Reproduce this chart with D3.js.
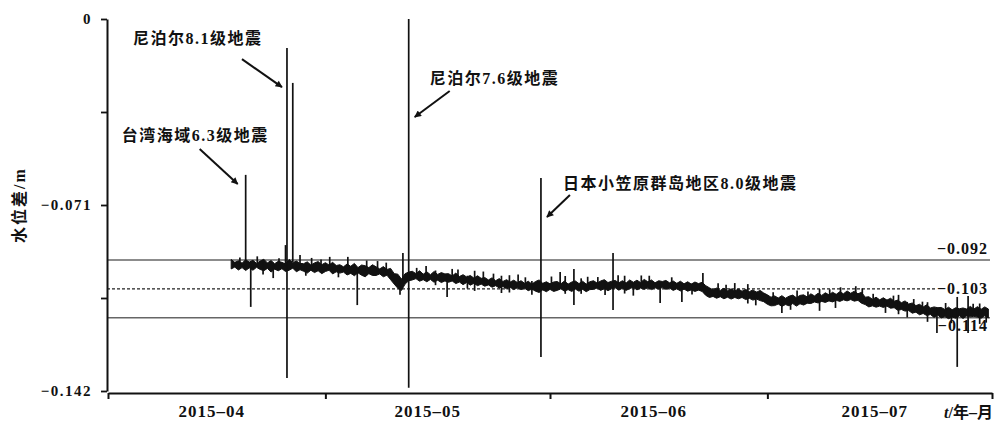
<!DOCTYPE html>
<html>
<head>
<meta charset="utf-8">
<script src="https://cdn.jsdelivr.net/npm/d3@7"></script>
<style>
  body { margin: 0; background: #fff; }
  text { font-family: "Liberation Serif", "Noto Sans CJK SC", serif; font-weight: bold; fill: #111; }
</style>
</head>
<body>
<svg id="chart" width="1007" height="427"></svg>
<script>
// Time axis: month boundaries and month labels
const monthStarts = ["2015-04-01", "2015-05-01", "2015-06-01", "2015-07-01", "2015-08-01"];
const monthLabels = ["2015–04", "2015–05", "2015–06", "2015–07"];

// Water-level difference axis (m)
const yTicks = [0, -0.0355, -0.071, -0.1065, -0.142];
const yTickLabels = ["0", "", "−0.071", "", "−0.142"];

// Reference levels (m)
const refLevels = [-0.092, -0.103, -0.114];
const refLabels = ["−0.092", "−0.103", "−0.114"];

// Recorded series: days after 2015-04-01, half-day sampling,
// upper and lower envelope of the record in mm
const seriesStartDay = 17;
const seriesStep = 0.5;
const levelUpperMM = [
  -91.8, -92.9, -92.3, -93.2, -91.9, -92.8, -92.1, -93.3, -92.4, -91.7,
  -93.1, -92.2, -93.4, -92.5, -92.9, -93.5, -91.8, -93.0, -92.4, -93.3,
  -93.4, -92.7, -93.9, -93.1, -92.6, -93.8, -93.0, -93.9, -92.9, -94.1,
  -93.8, -94.6, -93.5, -94.4, -93.3, -94.9, -93.9, -94.2, -94.9, -93.8,
  -94.6, -95.4, -94.5, -95.6, -95.2, -97.2, -97.4, -99.3, -97.2, -96.6,
  -96.3, -97.2, -96.1, -97.4, -96.5, -97.6, -96.4, -97.5, -96.8, -97.3,
  -97.2, -98.1, -97.0, -98.3, -97.6, -98.5, -97.9, -98.9, -98.0, -99.0,
  -98.7, -99.6, -98.8, -99.9, -99.1, -100.2, -99.5, -100.4, -99.7, -100.6,
  -99.9, -100.9, -100.1, -101.2, -100.2, -99.6, -100.9, -100.3, -101.1, -100.4,
  -100.2, -101.1, -100.0, -101.2, -100.4, -100.0, -101.0, -100.1, -101.2, -100.3,
  -99.9, -100.8, -100.0, -99.5, -100.6, -100.1, -99.8, -100.7, -99.9, -100.8,
  -99.6, -100.5, -99.7, -100.6, -99.4, -100.3, -99.6, -100.7, -99.9, -100.2,
  -99.8, -100.7, -100.0, -100.9, -100.1, -101.1, -100.3, -101.2, -100.4, -101.0,
  -100.5, -101.8, -102.6, -103.4, -102.7, -103.6, -102.8, -103.7, -103.0, -103.8,
  -103.1, -103.9, -103.2, -104.1, -103.4, -104.3, -103.6, -104.6, -105.3, -106.2,
  -105.7, -106.5, -105.6, -106.6, -105.8, -105.4, -106.4, -105.5, -105.3, -106.1,
  -104.9, -105.7, -104.7, -105.5, -104.5, -105.3, -104.3, -105.1, -104.1, -104.9,
  -103.8, -104.7, -103.9, -104.9, -104.3, -106.2, -106.0, -107.0, -106.2, -107.2,
  -106.4, -107.3, -106.6, -107.7, -107.3, -108.3, -107.6, -108.8, -108.4, -109.4,
  -108.9, -109.9, -109.1, -110.3, -109.9, -110.2, -110.1, -110.9, -110.0, -111.0,
  -110.2, -110.6, -110.3, -110.7, -109.7, -110.7, -109.8, -110.8, -109.9, -110.7
];
const levelLowerMM = [
  -95.4, -94.7, -95.8, -94.9, -96.0, -95.0, -95.9, -94.8, -95.6, -96.1,
  -95.2, -96.6, -95.5, -96.1, -95.3, -96.4, -95.9, -95.1, -96.5, -95.7,
  -96.3, -97.0, -95.9, -96.8, -96.1, -97.2, -96.4, -95.9, -97.3, -96.5,
  -97.0, -96.6, -97.7, -97.1, -98.0, -96.9, -97.8, -98.4, -97.2, -97.9,
  -97.9, -97.3, -98.4, -97.8, -99.5, -101.2, -102.8, -103.6, -101.2, -99.9,
  -99.6, -99.1, -100.1, -99.5, -100.3, -99.4, -100.5, -99.7, -100.6, -100.0,
  -100.5, -100.0, -101.0, -100.4, -101.4, -100.6, -101.6, -100.9, -101.8, -101.2,
  -102.0, -101.5, -102.4, -101.8, -102.7, -102.1, -103.0, -102.4, -103.3, -102.6,
  -103.3, -102.8, -103.7, -103.1, -103.9, -104.4, -103.4, -104.1, -103.2, -104.0,
  -103.6, -103.0, -103.9, -103.3, -104.0, -103.1, -103.9, -103.2, -104.1, -103.3,
  -103.2, -102.7, -103.6, -102.9, -103.7, -103.0, -102.6, -103.5, -102.8, -103.6,
  -102.9, -102.4, -103.4, -102.7, -103.2, -102.6, -103.3, -102.6, -103.1, -102.5,
  -103.2, -102.7, -103.6, -103.0, -103.8, -103.1, -103.9, -103.4, -104.0, -103.5,
  -104.0, -105.5, -106.3, -105.9, -106.6, -106.0, -106.8, -106.2, -106.9, -106.3,
  -106.8, -106.3, -107.1, -106.6, -107.3, -106.9, -107.5, -107.9, -108.9, -109.5,
  -109.4, -108.8, -109.7, -109.0, -109.5, -108.6, -109.6, -108.7, -109.2, -108.5,
  -108.6, -108.0, -108.4, -107.8, -108.2, -107.6, -108.0, -107.4, -107.8, -107.2,
  -107.6, -107.1, -107.7, -107.4, -108.5, -109.0, -109.9, -109.5, -110.0, -109.6,
  -110.1, -109.6, -110.4, -110.2, -111.2, -110.9, -111.5, -111.3, -112.3, -111.9,
  -112.9, -112.4, -113.2, -112.8, -113.9, -113.0, -114.1, -113.6, -114.4, -113.8,
  -114.2, -113.3, -114.3, -113.4, -113.7, -113.5, -113.8, -114.2, -113.3, -114.1
];

// Co-seismic and short-lived excursions: day, upper mm, lower mm
const spikeDays = [
  18.2, 19.0, 19.7, 20.6, 21.4, 22.8, 23.6, 24.5, 24.7, 25.5, 26.5, 27.3, 28.1, 29.4,
  30.6, 31.8, 33.1, 34.4, 35.7, 37.2, 38.4, 40.3, 40.7, 41.5, 42.6, 43.9, 45.2, 46.8,
  47.5, 48.3, 49.6, 50.6, 51.8, 53.2, 54.3, 55.4, 56.6, 57.6, 58.5, 59.75, 61.2, 62.4,
  63.1, 64.3, 65.3, 66.2, 67.6, 68.6, 69.7, 70.4, 71.3, 72.5, 73.6, 74.7, 76.2, 77.8,
  79.2, 80.6, 82.1, 84.2, 85.3, 86.5, 88.3, 89.4, 91.8, 93.0, 94.2, 95.1, 96.6, 98.2,
  99.6, 100.4, 101.1, 103.2, 104.1, 105.6, 107.3, 108.4, 109.1, 110.3, 111.2, 112.4,
  113.1, 114.4, 115.6, 116.4, 117.2, 118.7, 119.4, 120.3, 121.2
];
const spikeUpper = [
  -91.0, -59.5, -93.0, -90.6, -93.0, -94.0, -91.3, -86.3, -11.1, -24.4, -90.1, -94.0, -91.2, -91.8,
  -90.8, -95.0, -90.8, -95.0, -92.2, -92.4, -93.0, -99.0, -89.3, 0.0, -95.0, -94.3, -96.0, -98.0,
  -95.4, -95.6, -98.0, -96.1, -96.4, -97.2, -98.0, -97.8, -97.5, -98.6, -100.0, -60.7, -98.3, -96.6,
  -98.1, -95.4, -99.0, -98.4, -98.5, -101.0, -89.3, -97.8, -98.0, -101.0, -97.9, -98.0, -101.0, -98.6,
  -101.5, -101.0, -97.0, -100.9, -101.4, -100.8, -101.2, -104.0, -104.3, -107.0, -106.0, -103.6, -104.0, -103.1,
  -103.2, -105.0, -102.4, -102.0, -102.8, -104.9, -107.0, -105.6, -105.3, -108.0, -106.9, -107.9,
  -108.1, -110.0, -108.4, -111.0, -106.1, -105.7, -108.7, -108.6, -111.0
];
const spikeLower = [
  -94.0, -94.0, -109.9, -94.0, -97.5, -98.9, -94.0, -94.0, -137.0, -92.8, -94.0, -98.0, -96.0, -95.0,
  -94.0, -98.6, -94.0, -109.2, -96.0, -96.5, -97.0, -105.3, -100.0, -140.8, -99.0, -98.0, -101.6, -106.1,
  -99.0, -99.5, -102.9, -103.8, -100.0, -101.2, -104.6, -104.4, -101.0, -102.6, -105.3, -129.0, -102.0, -101.5,
  -104.9, -109.2, -104.9, -102.6, -102.0, -105.4, -111.1, -101.0, -104.8, -105.6, -102.0, -101.0, -108.4, -102.0,
  -108.0, -105.2, -102.3, -105.9, -104.0, -104.5, -108.6, -109.3, -107.0, -112.2, -111.0, -108.0, -107.0, -111.4,
  -106.0, -110.3, -107.0, -106.5, -105.0, -108.7, -112.2, -108.0, -112.7, -113.9, -110.9, -110.0,
  -115.6, -119.9, -112.6, -116.1, -132.8, -119.9, -111.0, -116.4, -115.9
];

// Earthquake annotations: label, day of the response, level the arrow points at (mm)
const quakeNames  = ["台湾海域6.3级地震", "尼泊尔8.1级地震", "尼泊尔7.6级地震", "日本小笠原群岛地区8.0级地震"];
const quakeDays   = [19.0, 24.7, 41.5, 59.75];
const quakeArrowMM = [-63.0, -26.0, -37.4, -75.6];

const svg = d3.select("#chart");
const dayMs = 864e5;
const t0 = Date.UTC(2015, 3, 1);
const toDate = day => new Date(t0 + day * dayMs);

const x = d3.scaleUtc()
  .domain([new Date(monthStarts[0]), new Date(monthStarts[monthStarts.length - 1])])
  .range([108, 992]);
const y = d3.scaleLinear().domain([0, -0.142]).range([19, 391]);

// Arrowhead
svg.append("defs").append("marker")
  .attr("id", "arrow").attr("viewBox", "0 0 10 10")
  .attr("refX", 9).attr("refY", 5)
  .attr("markerWidth", 10).attr("markerHeight", 7)
  .attr("markerUnits", "userSpaceOnUse")
  .attr("orient", "auto")
  .append("path").attr("d", "M0,0 L10,5 L0,10 z").attr("fill", "#111");

// Reference levels
const refEnds = [990, 935, 990];
svg.append("g").selectAll("line").data(refLevels).join("line")
  .attr("x1", 107).attr("x2", (d, i) => refEnds[i])
  .attr("y1", d => y(d)).attr("y2", d => y(d))
  .attr("stroke", (d, i) => i === 1 ? "#222" : "#666")
  .attr("stroke-width", (d, i) => i === 2 ? 1.5 : 1.3)
  .attr("stroke-dasharray", (d, i) => i === 1 ? "3,2" : null);

// Series envelope
const band = d3.area()
  .x((d, i) => x(toDate(seriesStartDay + i * seriesStep)))
  .y0((d, i) => y(levelLowerMM[i] / 1000))
  .y1(d => y(d / 1000));
svg.append("path").datum(levelUpperMM)
  .attr("d", band)
  .attr("fill", "#111").attr("stroke", "#111")
  .attr("stroke-width", 1).attr("stroke-linejoin", "miter");

// Spikes
svg.append("g").selectAll("line").data(spikeDays).join("line")
  .attr("x1", d => x(toDate(d))).attr("x2", d => x(toDate(d)))
  .attr("y1", (d, i) => y(spikeUpper[i] / 1000))
  .attr("y2", (d, i) => y(spikeLower[i] / 1000))
  .attr("stroke", "#111").attr("stroke-width", 1.7);

// Annotations: arrow tail offset and label offset relative to the arrow tip
const arrowOffsets = [[-8, -38, -35], [-5, -40, -28], [6, 35, -26], [6, 23, -22]];
const labelOffsets = [[-116, -43], [-149, -43], [15, -33], [16, -28]];
const ann = svg.append("g");
quakeNames.forEach((name, i) => {
  const tx = x(toDate(quakeDays[i])) + arrowOffsets[i][0];
  const ty = y(quakeArrowMM[i] / 1000);
  ann.append("line")
    .attr("x1", tx + arrowOffsets[i][1]).attr("y1", ty + arrowOffsets[i][2])
    .attr("x2", tx).attr("y2", ty)
    .attr("stroke", "#111").attr("stroke-width", 2)
    .attr("marker-end", "url(#arrow)");
  ann.append("text")
    .attr("x", tx + labelOffsets[i][0]).attr("y", ty + labelOffsets[i][1])
    .attr("font-size", 16).attr("letter-spacing", 1.5)
    .text(name);
});

// Reference level labels
const refLabelDy = [-6, 5, 13];
svg.append("g").selectAll("text").data(refLabels).join("text")
  .attr("x", 988).attr("y", (d, i) => y(refLevels[i]) + refLabelDy[i])
  .attr("text-anchor", "end").attr("font-size", 16).attr("letter-spacing", 1)
  .text(d => d);

// Y axis
const yAxis = svg.append("g").attr("transform", "translate(107,0)")
  .call(d3.axisLeft(y).tickValues(yTicks).tickFormat((d, i) => yTickLabels[i])
    .tickSize(6).tickSizeOuter(0).tickPadding(9));
yAxis.select(".domain").attr("stroke", "#111").attr("stroke-width", 2);
yAxis.selectAll(".tick line").attr("stroke", "#111").attr("stroke-width", 1.8);
yAxis.selectAll(".tick text")
  .attr("font-size", 15).attr("letter-spacing", 1.5)
  .style("font-family", "'Liberation Serif', serif").style("font-weight", "bold").attr("fill", "#111");

// X axis
const monthDates = monthStarts.map(s => new Date(s));
const xAxis = svg.append("g").attr("transform", "translate(0,393)")
  .call(d3.axisBottom(x).tickValues(monthDates).tickFormat("").tickSize(6).tickSizeOuter(0));
xAxis.select(".domain").attr("stroke", "#111").attr("stroke-width", 2);
xAxis.selectAll(".tick line").attr("stroke", "#111").attr("stroke-width", 2);

// Month labels, roughly centred in each month
svg.append("g").selectAll("text").data(monthLabels).join("text")
  .attr("x", (d, i) => (x(monthDates[i]) + x(monthDates[i + 1])) / 2 - (i === 1 ? 10 : 5))
  .attr("y", 417)
  .attr("text-anchor", "middle").attr("font-size", 17).attr("letter-spacing", 1)
  .text(d => d);

// Axis titles
const xt = svg.append("text").attr("x", 944).attr("y", 418).attr("font-size", 16).attr("font-weight", "normal");
xt.append("tspan").attr("font-style", "italic").text("t");
xt.append("tspan").text("/年–月");

svg.append("text")
  .attr("transform", "translate(25,205) rotate(-90)")
  .attr("text-anchor", "middle").attr("font-size", 16).attr("letter-spacing", 2)
  .attr("font-weight", "normal")
  .text("水位差/m");
</script>
</body>
</html>
